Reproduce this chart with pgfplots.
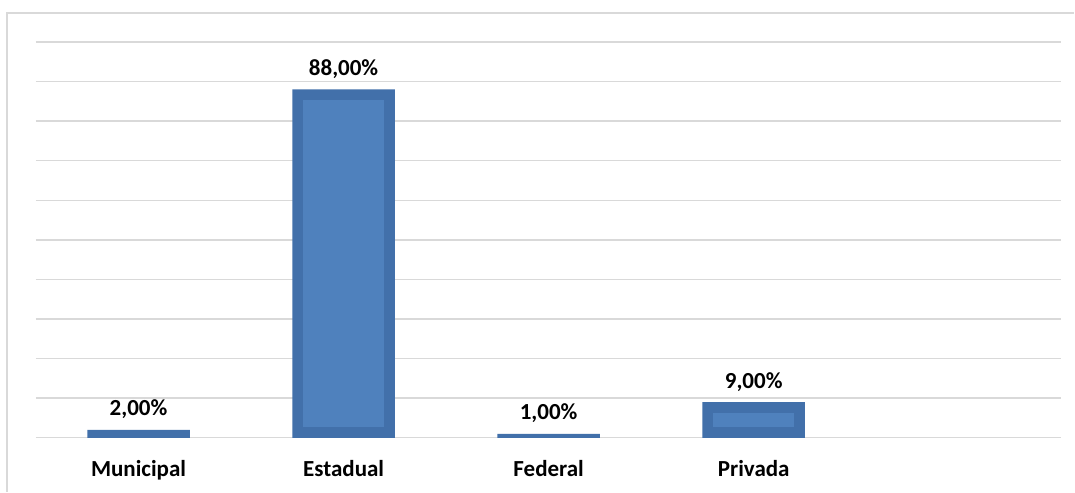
\documentclass[border=0pt]{standalone}
\usepackage{fontspec}
\setmainfont{Carlito}
\usepackage{pgfplots}
\pgfplotsset{compat=1.18}
\definecolor{barout}{RGB}{66,112,170}
\definecolor{barin}{RGB}{79,129,189}
\definecolor{gridc}{RGB}{217,217,217}
\begin{document}
\begin{tikzpicture}
\begin{axis}[
  scale only axis, width=1026pt, height=396pt,
  xmin=-0.5, xmax=4.5, ymin=0, ymax=100,
  axis line style={draw=none},
  major tick length=0pt,
  ytick={0,10,...,100}, yticklabels={},
  ymajorgrids, grid style={gridc, line width=1.4pt},
  xtick={0,1,2,3}, xticklabels={Municipal,Estadual,Federal,Privada},
  xticklabel style={font=\bfseries\fontsize{23}{27}\selectfont, yshift=-19pt},
  clip=false,
]
\addplot[ybar, bar width=0.5, fill=barout, draw=none,
  nodes near coords, point meta=explicit symbolic,
  every node near coord/.append style={font=\bfseries\fontsize{23}{27}\selectfont, black, yshift=7.3pt}]
  coordinates {(0,2)[2,00\%] (1,88)[88,00\%] (2,1)[1,00\%] (3,9)[9,00\%]};
\addplot[fill=barin, draw=none] coordinates {(0.803,2.78) (1.197,2.78) (1.197,85.22) (0.803,85.22)} -- cycle;
\addplot[fill=barin, draw=none] coordinates {(2.803,2.78) (3.197,2.78) (3.197,6.22) (2.803,6.22)} -- cycle;
\draw[gridc, line width=1.4pt] (rel axis cs:-0.02827,-0.13636) -- (rel axis cs:-0.02827,1.0732) -- (rel axis cs:1.01267,1.0732);
\path (rel axis cs:-0.035088,-0.13636) rectangle (rel axis cs:1.01267,1.10606);
\end{axis}
\end{tikzpicture}
\end{document}
